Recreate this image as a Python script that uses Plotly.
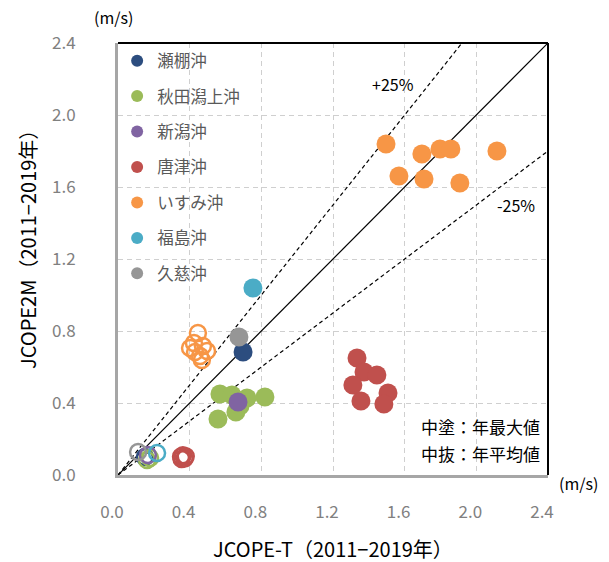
import plotly.graph_objects as go

# ---- data ----
sites = ["瀬棚沖", "秋田潟上沖", "新潟沖", "唐津沖", "いすみ沖", "福島沖", "久慈沖"]
colors = ["#2C4D7F", "#9BBB59", "#8064A2", "#C0504D", "#F79646", "#4BACC6", "#969696"]

# annual maximum (filled)
max_x = {
    "瀬棚沖": [0.698],
    "秋田潟上沖": [0.569, 0.636, 0.72, 0.82, 0.558, 0.658, 0.681],
    "新潟沖": [0.67],
    "唐津沖": [1.334, 1.373, 1.445, 1.311, 1.356, 1.507, 1.484],
    "いすみ沖": [1.496, 1.696, 1.797, 1.858, 2.115, 1.568, 1.708, 1.908],
    "福島沖": [0.753],
    "久慈沖": [0.675],
}
max_y = {
    "瀬棚沖": [0.683],
    "秋田潟上沖": [0.45, 0.444, 0.428, 0.433, 0.311, 0.35, 0.383],
    "新潟沖": [0.406],
    "唐津沖": [0.65, 0.572, 0.556, 0.5, 0.411, 0.456, 0.394],
    "いすみ沖": [1.839, 1.783, 1.811, 1.811, 1.8, 1.661, 1.644, 1.622],
    "福島沖": [1.039],
    "久慈沖": [0.767],
}
# annual mean (open)
mean_x = {
    "瀬棚沖": [0.15],
    "秋田潟上沖": [0.162, 0.179],
    "新潟沖": [0.167],
    "唐津沖": [0.352, 0.372, 0.362, 0.378, 0.355],
    "いすみ沖": [0.446, 0.424, 0.402, 0.474, 0.497, 0.458, 0.468, 0.43],
    "福島沖": [0.218],
    "久慈沖": [0.112],
}
mean_y = {
    "瀬棚沖": [0.1],
    "秋田潟上沖": [0.083, 0.094],
    "新潟沖": [0.111],
    "唐津沖": [0.102, 0.092, 0.11, 0.104, 0.089],
    "いすみ沖": [0.789, 0.733, 0.706, 0.717, 0.689, 0.661, 0.639, 0.683],
    "福島沖": [0.122],
    "久慈沖": [0.128],
}

ticks = [0.0, 0.4, 0.8, 1.2, 1.6, 2.0, 2.4]
tick_text = ["0.0", "0.4", "0.8", "1.2", "1.6", "2.0", "2.4"]
axis_max = 2.4

FONT = "Noto Sans CJK JP"

fig = go.Figure()

# reference lines
fig.add_trace(go.Scatter(x=[0, axis_max], y=[0, axis_max], mode="lines",
                         line=dict(color="black", width=1.2), showlegend=False, hoverinfo="skip"))
fig.add_trace(go.Scatter(x=[0, axis_max / 1.25], y=[0, axis_max], mode="lines",
                         line=dict(color="black", width=1.2, dash="4px,3px"), showlegend=False, hoverinfo="skip"))
fig.add_trace(go.Scatter(x=[0, axis_max], y=[0, axis_max * 0.75], mode="lines",
                         line=dict(color="black", width=1.2, dash="4px,3px"), showlegend=False, hoverinfo="skip"))

for s, c in zip(sites, colors):
    fig.add_trace(go.Scatter(x=mean_x[s], y=mean_y[s], mode="markers", name=s, legendgroup=s,
                             showlegend=False,
                             marker=dict(symbol="circle-open", size=16, color=c, line=dict(width=2.5, color=c))))
for s, c in zip(sites, colors):
    fig.add_trace(go.Scatter(x=max_x[s], y=max_y[s], mode="markers", name=s, legendgroup=s,
                             showlegend=True,
                             marker=dict(symbol="circle", size=19, color=c)))

grid = dict(showgrid=True, gridcolor="#cfcfcf", gridwidth=1.2, griddash="5px,4px", zeroline=False)

fig.update_xaxes(range=[0, axis_max], tickvals=ticks, ticktext=tick_text,
                 showline=True, linecolor="#a6a6a6", linewidth=3,
                 tickfont=dict(family=FONT, size=17, color="#808080"),
                 ticks="", ticklabelstandoff=20, ticklabelshift=-6, automargin=False,
                 **grid)
fig.update_yaxes(range=[0, axis_max], tickvals=ticks, ticktext=tick_text,
                 showline=True, linecolor="#a6a6a6", linewidth=3,
                 tickfont=dict(family=FONT, size=17, color="#808080"),
                 ticks="", ticklabelstandoff=36, automargin=False,
                 **grid)

fig.add_shape(type="line", xref="paper", yref="paper", x0=0, x1=1, y0=1, y1=1,
              line=dict(color="black", width=2))
fig.add_shape(type="line", xref="paper", yref="paper", x0=1, x1=1, y0=0, y1=1,
              line=dict(color="black", width=2))

ann_font = dict(family=FONT, size=16, color="black")
big_font = dict(family=FONT, size=17, color="black")
title_font = dict(family=FONT, size=20, color="black")
c = dict(showarrow=False, xanchor="center", yanchor="middle")
fig.add_annotation(x=1.535, y=2.17, text="+25%", font=ann_font, **c)
fig.add_annotation(x=2.22, y=1.5, text="-25%", font=ann_font, **c)
fig.add_annotation(x=0.985, y=0.113, xref="paper", yref="paper", text="中塗：年最大値",
                   showarrow=False, xanchor="right", yanchor="middle", font=big_font)
fig.add_annotation(x=0.985, y=0.049, xref="paper", yref="paper", text="中抜：年平均値",
                   showarrow=False, xanchor="right", yanchor="middle", font=big_font)
fig.add_annotation(x=(113 - 118) / 430, y=(475 - 17) / 432, xref="paper", yref="paper",
                   text="(m/s)", font=ann_font, **c)
fig.add_annotation(x=(578 - 118) / 430, y=(475 - 483) / 432, xref="paper", yref="paper",
                   text="(m/s)", font=ann_font, **c)
# axis titles
fig.add_annotation(x=(333 - 118) / 430, y=(475 - 548) / 432, xref="paper", yref="paper",
                   text="JCOPE-T（2011−2019年）", font=title_font, **c)
fig.add_annotation(x=(27 - 118) / 430, y=(475 - 245) / 432, xref="paper", yref="paper",
                   text="JCOPE2M（2011−2019年）", textangle=-90, font=title_font, **c)

fig.update_layout(
    width=609, height=562,
    margin=dict(l=118, r=61, t=43, b=87),
    plot_bgcolor="white", paper_bgcolor="white",
    showlegend=True,
    legend=dict(x=-0.002, y=0.999, xanchor="left", yanchor="top", bgcolor="rgba(0,0,0,0)",
                font=dict(family=FONT, size=16.5, color="#595959"),
                traceorder="grouped", tracegroupgap=11, itemsizing="constant",
                itemwidth=30),
    font=dict(family=FONT),
)

# remove the default 8px page margin so the figure sits at the window's top-left
fig.write_html("out.html", config={"displayModeBar": False},
               post_script="document.body.style.margin='0';")
